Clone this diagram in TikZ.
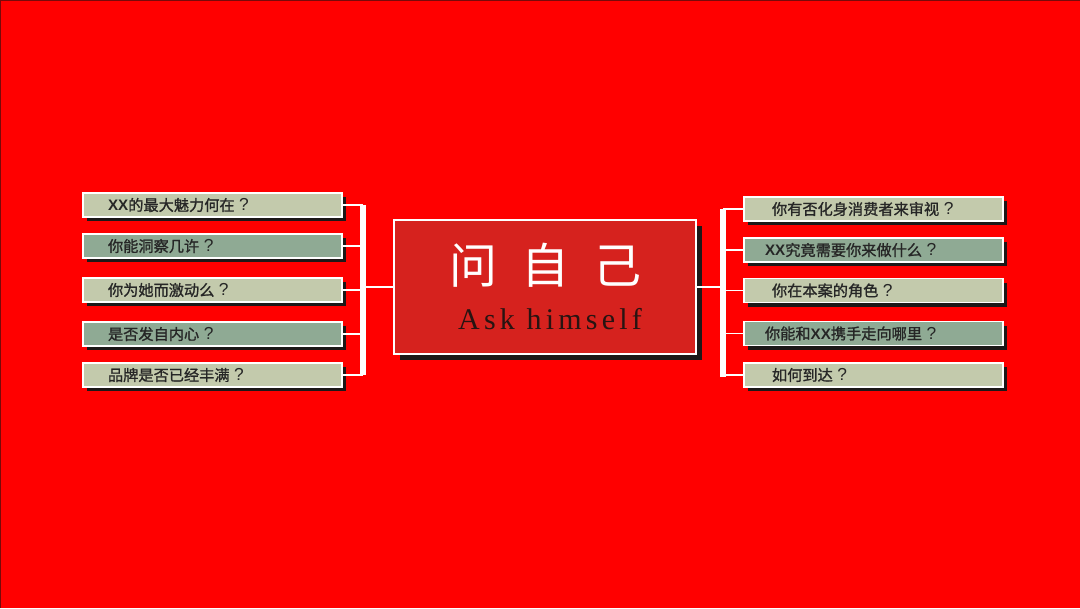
\documentclass[tikz,border=0pt]{standalone}
\usepackage{fontspec}
\setmainfont{Liberation Sans}
\newfontfamily\cjk{Noto Sans CJK SC}
\newfontfamily\cjkq[FakeBold=1.2]{Noto Sans CJK SC}
\newfontfamily\lat{Liberation Sans}
\newfontfamily\ttl[LetterSpace=14]{Liberation Serif}
\usetikzlibrary{calc}
\definecolor{bgred}{RGB}{255,0,0}
\definecolor{edgered}{RGB}{120,10,10}
\definecolor{hubred}{RGB}{214,34,30}
\definecolor{lite}{RGB}{195,202,172}
\definecolor{dark}{RGB}{143,170,148}
\definecolor{ink}{RGB}{38,38,38}
\definecolor{shadowc}{RGB}{28,24,24}
\definecolor{titleink}{RGB}{40,20,18}
\tikzset{
  qbox/.style={draw=white,line width=0.9pt,fill=#1,minimum width=194.25pt,minimum height=18pt,
    text width=194.25pt,inner xsep=0pt,inner ysep=0pt,align=left,text=ink,
    font=\cjkq\fontsize{11.4}{12}\selectfont,
    preaction={draw=none,fill=shadowc,transform canvas={shift={(3pt,-3pt)}}}},
  hub/.style={draw=white,line width=1.2pt,fill=hubred,minimum width=226.5pt,minimum height=100.5pt,
    preaction={draw=none,fill=shadowc,transform canvas={shift={(4.5pt,-4.5pt)}}}},
  bracket/.style={white,line width=3.8pt},
  link/.style={white,line width=1.1pt}
}
\newcommand{\XX}{{\lat\bfseries XX}}
\newcommand{\Q}{\hspace{0.3em}{\lat\fontsize{13}{12}\selectfont ?}}
\begin{document}
\begin{tikzpicture}[x=0.75pt,y=-0.75pt]
  \useasboundingbox (0,0) rectangle (1080,608);
  \fill[bgred] (0,0) rectangle (1080,608);
  \draw[edgered,line width=1.5pt] (0,608) -- (0,0) -- (1080,0);

  % left questions
  \foreach \i/\y/\c/\t in {1/205/lite/{\XX 的最大魅力何在\Q},
      2/246/dark/{你能洞察几许\Q},
      3/290/lite/{你为她而激动么\Q},
      4/334/dark/{是否发自内心\Q},
      5/375/lite/{品牌是否已经丰满\Q}}
    \node[qbox=\c] (l\i) at (212.5,\y) {\hspace*{18.75pt}\t};

  % right questions
  \foreach \i/\y/\c/\s/\t in {1/209/lite/21/{你有否化身消费者来审视\Q},
      2/250/dark/15.75/{\XX 究竟需要你来做什么\Q},
      3/290.5/lite/21/{你在本案的角色\Q},
      4/333.5/dark/15.75/{你能和\XX 携手走向哪里\Q},
      5/375/lite/21/{如何到达\Q}}
    \node[qbox=\c] (r\i) at (873.5,\y) {\hspace*{\s pt}\t};

  % centre
  \node[hub] (hub) at (545,287) {};
  \node[text=white,font=\cjk\fontsize{36}{40}\selectfont,inner sep=0pt] (hubcn) at (545,265)
    {问\hspace{18pt}自\hspace{18pt}己};
  \node[text=titleink,font=\ttl\fontsize{22.5}{24}\selectfont,anchor=base,inner sep=0pt] (huben)
    at (550,329) {Ask himself};

  % brackets
  \coordinate (lbt) at (363,205);
  \coordinate (lbb) at (363,375);
  \coordinate (rbt) at (723,209);
  \coordinate (rbb) at (723,377);
  \draw[bracket] (lbt) -- (lbb);
  \draw[bracket] (rbt) -- (rbb);
  \foreach \i in {1,...,5} {
    \draw[link] (l\i.east) -- (l\i.east -| lbt);
    \draw[link] (r\i.west) -- (r\i.west -| rbt);
  }
  \draw[link] (hub.west) -- (hub.west -| lbt);
  \draw[link] (hub.east) -- (hub.east -| rbt);
\end{tikzpicture}
\end{document}
